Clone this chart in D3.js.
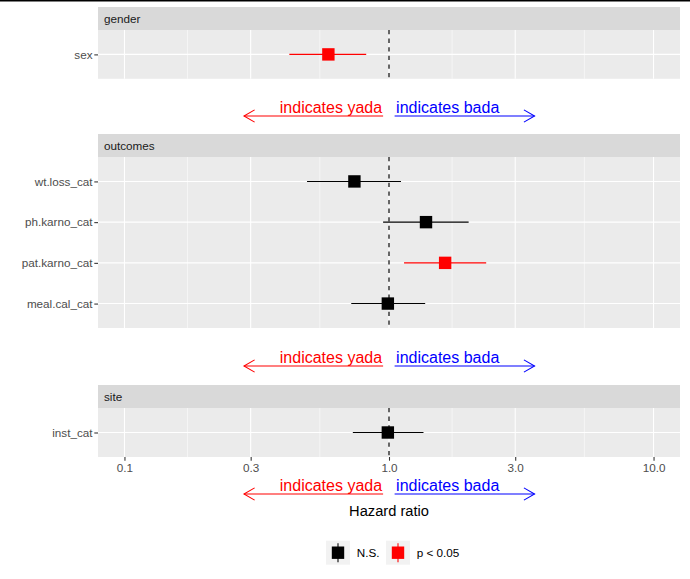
<!DOCTYPE html>
<html>
<head>
<meta charset="utf-8">
<script src="https://cdn.jsdelivr.net/npm/d3@7"></script>
<style>
  html, body { margin: 0; padding: 0; background: #fff; }
  svg { display: block; font-family: "Liberation Sans", Arial, Helvetica, sans-serif; }
</style>
</head>
<body>
<svg id="chart" width="690" height="579"></svg>
<script>
// ---------------- data ----------------
const panels = ["gender", "outcomes", "site"];
const terms = ["sex", "wt.loss_cat", "ph.karno_cat", "pat.karno_cat", "meal.cal_cat", "inst_cat"];
const termPanel = ["gender", "outcomes", "outcomes", "outcomes", "outcomes", "site"];
const hazardRatio = [0.59, 0.74, 1.38, 1.63, 0.99, 0.99];
const ciLower = [0.42, 0.49, 0.95, 1.14, 0.72, 0.73];
const ciUpper = [0.82, 1.11, 2.00, 2.33, 1.37, 1.35];
const significance = ["p < 0.05", "N.S.", "N.S.", "p < 0.05", "N.S.", "N.S."];
const xTicks = [0.1, 0.3, 1, 3, 10];
const xTickLabels = ["0.1", "0.3", "1.0", "3.0", "10.0"];
const xMinor = [Math.sqrt(0.03), Math.sqrt(0.3), Math.sqrt(3), Math.sqrt(30)];
const xLimits = [0.1, 10];
const arrowLabels = ["indicates yada", "indicates bada"];
const arrowFrom = [0.95, 1.05];
const arrowTo = [0.283, 3.55];
const arrowColors = ["red", "blue"];
const legendLevels = ["N.S.", "p < 0.05"];
const legendColors = ["black", "red"];
const xTitle = "Hazard ratio";

// ---------------- layout ----------------
const svg = d3.select("#chart");
const plotLeft = 98, plotRight = 680;
const panelBoxes = {
  gender:   { stripTop: 7,   top: 30,  bottom: 78.8 },
  outcomes: { stripTop: 134, top: 157, bottom: 328 },
  site:     { stripTop: 385, top: 408, bottom: 457 }
};
const arrowRowsY = [116, 366, 494];

const lg = [Math.log10(xLimits[0]), Math.log10(xLimits[1])];
const ex = (lg[1] - lg[0]) * 0.05;
const x = d3.scaleLog()
  .domain([Math.pow(10, lg[0] - ex), Math.pow(10, lg[1] + ex)])
  .range([plotLeft, plotRight]);

const color = d3.scaleOrdinal().domain(legendLevels).range(legendColors);

// top rule
svg.append("rect").attr("x", 0).attr("y", 0).attr("width", 690).attr("height", 1.5).attr("fill", "#000");

const rows = terms.map((t, i) => ({
  term: t, panel: termPanel[i], hr: hazardRatio[i], lo: ciLower[i], hi: ciUpper[i], sig: significance[i]
}));

panels.forEach(p => {
  const b = panelBoxes[p];
  const g = svg.append("g");
  const pr = rows.filter(r => r.panel === p);
  const y = d3.scalePoint().domain(pr.map(r => r.term)).range([b.top, b.bottom]).padding(0.6);

  // strip
  g.append("rect").attr("x", plotLeft).attr("y", b.stripTop)
    .attr("width", plotRight - plotLeft).attr("height", b.top - b.stripTop).attr("fill", "#D9D9D9");
  g.append("text").attr("x", plotLeft + 6).attr("y", (b.stripTop + b.top) / 2)
    .attr("dy", "0.35em").attr("font-size", 11.7).attr("fill", "#1A1A1A").text(p);

  // panel
  g.append("rect").attr("x", plotLeft).attr("y", b.top)
    .attr("width", plotRight - plotLeft).attr("height", b.bottom - b.top).attr("fill", "#EBEBEB");
  g.selectAll(".minor").data(xMinor).enter().append("line")
    .attr("x1", d => x(d)).attr("x2", d => x(d)).attr("y1", b.top).attr("y2", b.bottom)
    .attr("stroke", "#fff").attr("stroke-width", 0.53);
  g.selectAll(".major").data(xTicks).enter().append("line")
    .attr("x1", d => x(d)).attr("x2", d => x(d)).attr("y1", b.top).attr("y2", b.bottom)
    .attr("stroke", "#fff").attr("stroke-width", 1.07);
  g.selectAll(".hgrid").data(pr).enter().append("line")
    .attr("x1", plotLeft).attr("x2", plotRight).attr("y1", d => y(d.term)).attr("y2", d => y(d.term))
    .attr("stroke", "#fff").attr("stroke-width", 1.07);

  // y axis
  const yAxis = d3.axisLeft(y).tickSize(3.7).tickPadding(2);
  const ya = g.append("g").attr("transform", `translate(${plotLeft},0)`).call(yAxis);
  ya.select(".domain").remove();
  ya.selectAll(".tick line").attr("stroke", "#333").attr("stroke-width", 1.07);
  ya.selectAll(".tick text").attr("fill", "#4D4D4D").attr("font-size", 11.7)
    .attr("font-family", "Liberation Sans, Arial, sans-serif").attr("x", -5.5);

  // reference line
  g.append("line").attr("x1", x(1)).attr("x2", x(1)).attr("y1", b.top).attr("y2", b.bottom)
    .attr("stroke", "#111").attr("stroke-width", 1.25).attr("stroke-dasharray", "4.3,4.3");

  // pointranges
  g.selectAll(".ci").data(pr).enter().append("line")
    .attr("x1", d => x(d.lo)).attr("x2", d => x(d.hi))
    .attr("y1", d => y(d.term)).attr("y2", d => y(d.term))
    .attr("stroke", d => color(d.sig)).attr("stroke-width", 1.07);
  g.selectAll(".pt").data(pr).enter().append("rect")
    .attr("x", d => x(d.hr) - 6.2).attr("y", d => y(d.term) - 6.2)
    .attr("width", 12.4).attr("height", 12.4)
    .attr("fill", d => color(d.sig));

  // x axis for last panel
  if (p === panels[panels.length - 1]) {
    const xAxis = d3.axisBottom(x).tickValues(xTicks)
      .tickFormat((d, i) => xTickLabels[i]).tickSize(3.7).tickPadding(2.5);
    const xa = g.append("g").attr("transform", `translate(0,${b.bottom})`).call(xAxis);
    xa.select(".domain").remove();
    xa.selectAll(".tick line").attr("stroke", "#333").attr("stroke-width", 1.07);
    xa.selectAll(".tick text").attr("fill", "#4D4D4D").attr("font-size", 11.7)
      .attr("font-family", "Liberation Sans, Arial, sans-serif");
  }
});

// arrow annotations
const arrowHead = (x0, x1, yy) => {
  const dir = x1 > x0 ? 1 : -1;
  const L = 12.3, a = Math.PI / 6;
  return `M${x1 - dir * L * Math.cos(a)},${yy - L * Math.sin(a)}L${x1},${yy}L${x1 - dir * L * Math.cos(a)},${yy + L * Math.sin(a)}`;
};
arrowRowsY.forEach(yy => {
  const g = svg.append("g");
  arrowLabels.forEach((lab, i) => {
    const x0 = x(arrowFrom[i]), x1 = x(arrowTo[i]);
    g.append("line").attr("x1", x0).attr("x2", x1).attr("y1", yy).attr("y2", yy)
      .attr("stroke", arrowColors[i]).attr("stroke-width", 1.07);
    g.append("path").attr("d", arrowHead(x0, x1, yy)).attr("fill", "none")
      .attr("stroke", arrowColors[i]).attr("stroke-width", 1.07);
    g.append("text")
      .attr("x", i === 0 ? x0 - 1 : x0 + 1.5).attr("y", yy - 3)
      .attr("text-anchor", i === 0 ? "end" : "start")
      .attr("font-size", 16).attr("fill", arrowColors[i]).text(lab);
  });
});

// x title
svg.append("text").attr("x", x(1)).attr("y", 516).attr("text-anchor", "middle")
  .attr("font-size", 14.67).attr("fill", "#000").text(xTitle);

// legend
const legendKeyX = [326, 386];
const legendTextX = [356.7, 416.7];
const legY = 540.7, keyS = 24;
legendLevels.forEach((lv, i) => {
  const g = svg.append("g");
  g.append("rect").attr("x", legendKeyX[i]).attr("y", legY).attr("width", keyS).attr("height", keyS).attr("fill", "#F2F2F2");
  const cx = legendKeyX[i] + keyS / 2, cy = legY + keyS / 2;
  g.append("line").attr("x1", cx).attr("x2", cx).attr("y1", cy - 9.5).attr("y2", cy + 9.5)
    .attr("stroke", color(lv)).attr("stroke-width", 1.07);
  g.append("rect").attr("x", cx - 6.2).attr("y", cy - 6.2).attr("width", 12.4).attr("height", 12.4).attr("fill", color(lv));
  g.append("text").attr("x", legendTextX[i]).attr("y", cy).attr("dy", "0.35em")
    .attr("font-size", 11.7).attr("fill", "#000").text(lv);
});
</script>
</body>
</html>
